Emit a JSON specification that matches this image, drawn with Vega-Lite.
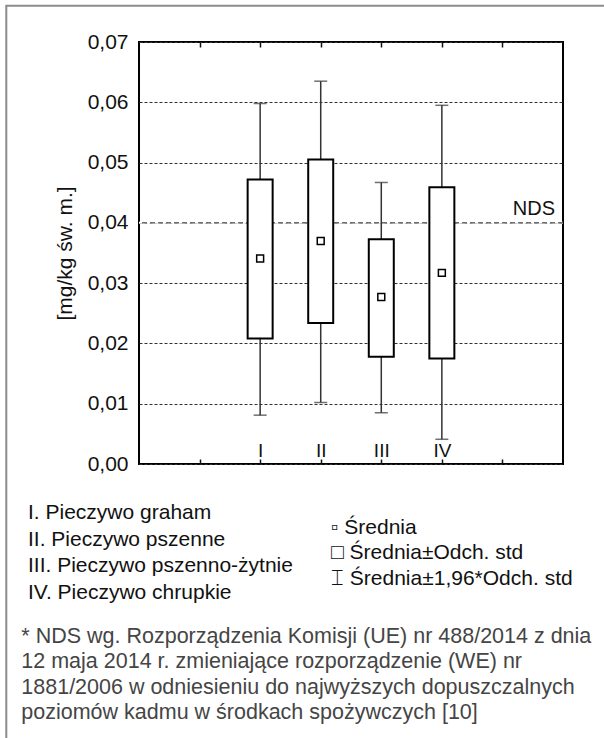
{
  "$schema": "https://vega.github.io/schema/vega-lite/v6.json",
  "width": 424,
  "height": 422,
  "autosize": {"type": "none"},
  "padding": {"left": 139, "top": 42, "right": 41, "bottom": 274},
  "background": "white",
  "datasets": {
    "pieczywo": [
      {"kod": "I", "nazwa": "I. Pieczywo graham", "srednia": 0.0341, "sd_dol": 0.0208, "sd_gora": 0.0472, "min": 0.0081, "max": 0.0598, "typ": "Średnia"},
      {"kod": "II", "nazwa": "II. Pieczywo pszenne", "srednia": 0.0370, "sd_dol": 0.0234, "sd_gora": 0.0505, "min": 0.0102, "max": 0.0635, "typ": "Średnia"},
      {"kod": "III", "nazwa": "III. Pieczywo pszenno-żytnie", "srednia": 0.0277, "sd_dol": 0.0178, "sd_gora": 0.0373, "min": 0.0085, "max": 0.0467, "typ": "Średnia"},
      {"kod": "IV", "nazwa": "IV. Pieczywo chrupkie", "srednia": 0.0317, "sd_dol": 0.0175, "sd_gora": 0.0459, "min": 0.0041, "max": 0.0595, "typ": "Średnia"}
    ],
    "nds": [
      {"nds": 0.04, "etykieta": "NDS"}
    ]
  },
  "title": {
    "text": [
      "* NDS wg. Rozporządzenia Komisji (UE) nr 488/2014 z dnia",
      "12 maja 2014 r. zmieniające rozporządzenie (WE) nr",
      "1881/2006 w odniesieniu do najwyższych dopuszczalnych",
      "poziomów kadmu w środkach spożywczych [10]"
    ],
    "orient": "top",
    "anchor": "start",
    "frame": "bounds",
    "baseline": "top",
    "offset": -719,
    "dx": 16,
    "fontSize": 21.5,
    "fontWeight": "normal",
    "color": "#454545",
    "lineHeight": 25.5
  },
  "resolve": {"axis": {"x": "independent"}},
  "layer": [
    {
      "data": {"name": "nds"},
      "mark": {"type": "rule", "color": "white", "strokeWidth": 2},
      "encoding": {
        "y": {"field": "nds", "type": "quantitative", "title": "[mg/kg św. m.]", "scale": {"domain": [0, 0.07], "nice": false, "zero": true}, "axis": {"values": [0, 0.01, 0.02, 0.03, 0.04, 0.05, 0.06, 0.07]}}
      }
    },
    {
      "data": {"name": "nds"},
      "mark": {"type": "rule", "color": "#222", "strokeWidth": 1},
      "encoding": {
        "y": {"field": "nds", "type": "quantitative", "title": "[mg/kg św. m.]", "axis": {"values": [0, 0.01, 0.02, 0.03, 0.04, 0.05, 0.06, 0.07]}},
        "strokeDash": {
          "field": "etykieta", "type": "nominal",
          "scale": {"range": [[5, 3]]},
          "legend": {"orient": "none", "legendX": -132.7, "legendY": -36.3, "padding": 800, "strokeColor": "#8c8c8c", "title": null, "labelFontSize": 1, "labelExpr": "''"}
        }
      }
    },
    {
      "data": {"name": "pieczywo"},
      "mark": {"type": "rule", "color": "#333", "strokeWidth": 1.5},
      "encoding": {
        "x": {
          "field": "kod", "type": "nominal",
          "scale": {"type": "point", "domain": [" ", "  ", "I", "II", "III", "IV", "   ", "    "], "padding": 0},
          "axis": {"orient": "bottom", "values": ["  ", "I", "II", "III", "IV", "   "], "title": null, "domain": false, "grid": false, "ticks": true, "tickSize": -5, "tickWidth": 1.5, "tickColor": "#111", "labelAngle": 0, "labelFontSize": 19, "labelColor": "#111", "labelBaseline": "alphabetic", "labelPadding": -3}
        },
        "y": {"field": "min", "type": "quantitative", "title": "[mg/kg św. m.]", "axis": {"values": [0, 0.01, 0.02, 0.03, 0.04, 0.05, 0.06, 0.07]}},
        "y2": {"field": "max"}
      }
    },
    {
      "data": {"name": "pieczywo"},
      "mark": {"type": "tick", "orient": "horizontal", "color": "#333", "size": 13, "thickness": 1.5},
      "encoding": {
        "x": {"field": "kod", "type": "nominal", "axis": null},
        "y": {"field": "min", "type": "quantitative", "title": "[mg/kg św. m.]", "axis": {"values": [0, 0.01, 0.02, 0.03, 0.04, 0.05, 0.06, 0.07]}}
      }
    },
    {
      "data": {"name": "pieczywo"},
      "mark": {"type": "tick", "orient": "horizontal", "color": "#333", "size": 13, "thickness": 1.5},
      "encoding": {
        "x": {"field": "kod", "type": "nominal", "axis": null},
        "y": {"field": "max", "type": "quantitative", "title": "[mg/kg św. m.]", "axis": {"values": [0, 0.01, 0.02, 0.03, 0.04, 0.05, 0.06, 0.07]}}
      }
    },
    {
      "data": {"name": "pieczywo"},
      "mark": {"type": "bar", "width": 25, "stroke": "#000", "strokeWidth": 2},
      "encoding": {
        "x": {
          "field": "kod", "type": "nominal",
          "axis": {"orient": "top", "values": ["  ", "I", "II", "III", "IV", "   "], "title": null, "domain": false, "grid": false, "ticks": true, "tickSize": -5, "tickWidth": 1.5, "tickColor": "#111", "labels": false}
        },
        "y": {"field": "sd_dol", "type": "quantitative", "title": "[mg/kg św. m.]", "axis": {"values": [0, 0.01, 0.02, 0.03, 0.04, 0.05, 0.06, 0.07]}},
        "y2": {"field": "sd_gora"},
        "fill": {
          "field": "nazwa", "type": "nominal",
          "scale": {"domain": ["I. Pieczywo graham", "II. Pieczywo pszenne", "III. Pieczywo pszenno-żytnie", "IV. Pieczywo chrupkie"], "range": ["white", "white", "white", "white"]},
          "legend": {"orient": "none", "legendX": -132, "legendY": 460.5, "title": null, "padding": 0, "symbolSize": 0, "symbolOpacity": 0, "symbolStrokeWidth": 0, "labelOffset": 0, "labelFontSize": 21, "labelColor": "#111", "labelLimit": 0, "rowPadding": 4.7}
        }
      }
    },
    {
      "data": {"name": "pieczywo"},
      "mark": {"type": "point", "filled": false, "color": "#000", "fill": "white", "strokeWidth": 1.5, "size": 300, "opacity": 1},
      "encoding": {
        "x": {"field": "kod", "type": "nominal", "axis": null},
        "y": {"field": "srednia", "type": "quantitative", "title": "[mg/kg św. m.]", "axis": {"values": [0, 0.01, 0.02, 0.03, 0.04, 0.05, 0.06, 0.07]}},
        "shape": {
          "field": "typ", "type": "nominal",
          "scale": {"domain": ["Średnia", "Średnia±Odch. std", "Średnia±1,96*Odch. std"], "range": ["M-0.4,-0.4H0.4V0.4H-0.4Z", "M-1,-1H1V1H-1Z", "M-0.6,-1H0.6M0,-1V1M-0.6,1H0.6"]},
          "legend": {
            "orient": "none", "legendX": 171, "legendY": 475, "title": null, "padding": 0,
            "symbolSize": 0, "symbolOpacity": 0, "symbolStrokeWidth": 0,
            "labelOffset": 0, "labelFontSize": 21, "labelColor": "#111", "labelLimit": 0, "rowPadding": 3.5,
            "labelExpr": "(datum.label === 'Średnia' ? '▫  ' : datum.label === 'Średnia±Odch. std' ? '□  ' : '⌶  ') + datum.label"
          }
        }
      }
    },
    {
      "data": {"name": "nds"},
      "mark": {"type": "text", "align": "right", "baseline": "bottom", "dx": -8, "dy": -4, "fontSize": 20, "color": "#111"},
      "encoding": {
        "x": {"datum": "    ", "type": "nominal", "axis": null},
        "y": {"field": "nds", "type": "quantitative", "title": "[mg/kg św. m.]", "axis": {"values": [0, 0.01, 0.02, 0.03, 0.04, 0.05, 0.06, 0.07]}},
        "text": {"field": "etykieta"}
      }
    }
  ],
  "config": {
    "font": "Liberation Sans",
    "view": {"stroke": "#000", "strokeWidth": 2},
    "legend": {"labelFont": "Liberation Sans", "strokeWidth": 2},
    "axisY": {
      "labelExpr": "replace(format(datum.value, '.2f'), '.', ',')",
      "labelFontSize": 21,
      "labelColor": "#111",
      "labelPadding": 11,
      "ticks": false,
      "domain": false,
      "grid": true,
      "gridColor": "#333",
      "gridDash": [3, 2],
      "gridWidth": 1,
      "titleFontSize": 21,
      "titleFontWeight": "normal",
      "titleColor": "#111",
      "titlePadding": 12
    }
  }
}
